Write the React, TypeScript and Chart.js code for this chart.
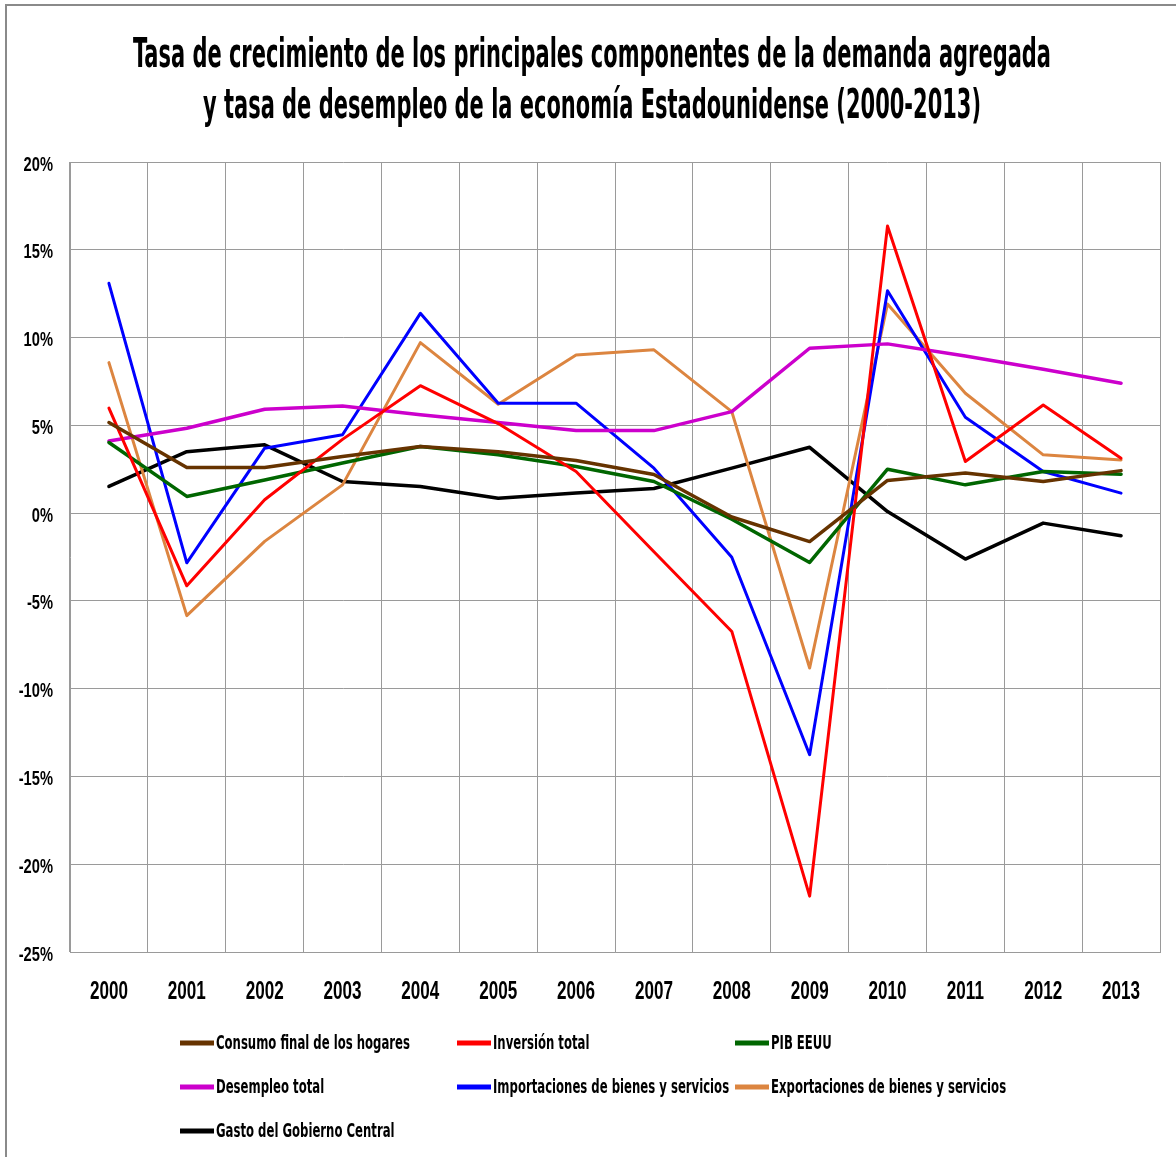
import React, { useEffect, useRef } from 'react';
import { Chart, registerables } from 'chart.js';

Chart.register(...registerables);

const years = ['2000', '2001', '2002', '2003', '2004', '2005', '2006', '2007', '2008', '2009', '2010', '2011', '2012', '2013'];

const consumoHogares = [5.16, 2.6, 2.6, 3.22, 3.8, 3.5, 3.0, 2.2, -0.22, -1.62, 1.86, 2.28, 1.8, 2.42];
const inversionTotal = [5.98, -4.14, 0.76, 4.2, 7.26, 5.1, 2.37, -2.2, -6.74, -21.82, 16.35, 2.94, 6.16, 3.13];
const pibEEUU = [4.02, 0.95, 1.89, 2.85, 3.79, 3.32, 2.65, 1.8, -0.35, -2.81, 2.5, 1.61, 2.37, 2.22];
const desempleoTotal = [4.11, 4.83, 5.92, 6.1, 5.6, 5.16, 4.7, 4.7, 5.78, 9.39, 9.64, 8.95, 8.2, 7.4];
const importaciones = [13.09, -2.83, 3.7, 4.46, 11.38, 6.26, 6.26, 2.56, -2.51, -13.76, 12.67, 5.46, 2.37, 1.14];
const exportaciones = [8.57, -5.84, -1.61, 1.61, 9.71, 6.2, 9.01, 9.3, 5.78, -8.82, 11.91, 6.83, 3.32, 3.03];
const gastoGobierno = [1.52, 3.5, 3.89, 1.8, 1.52, 0.85, 1.14, 1.4, 2.56, 3.75, 0.09, -2.62, -0.57, -1.29];

const seriesLabels = [
  'Consumo final de los hogares',
  'Inversión total',
  'PIB EEUU',
  'Desempleo total',
  'Importaciones de bienes y servicios',
  'Exportaciones de bienes y servicios',
  'Gasto del Gobierno Central',
];
const seriesColors = ['#663300', '#FF0000', '#006600', '#CC00CC', '#0000FF', '#DC8540', '#000000'];
const seriesWidths = [3.5, 3, 3.5, 3.5, 3, 3, 3.5];

const yTicks = { min: -25, max: 20, step: 5 };

const titleLines = [
  'Tasa de crecimiento de los principales componentes de la demanda agregada',
  'y tasa de desempleo de la economía Estadounidense (2000-2013)',
];

const FONT = "'Liberation Sans Narrow', 'DejaVu Sans Condensed', 'Liberation Sans', sans-serif";
const TICKFONT = "'Liberation Sans', 'DejaVu Sans', sans-serif";

function drawScaledText(ctx: any, text: string, x: number, y: number, sx: number, align: string) {
  ctx.save();
  ctx.translate(x, y);
  ctx.scale(sx, 1);
  ctx.textAlign = align;
  ctx.fillText(text, 0, 0);
  ctx.restore();
}

const framePlugin = {
  id: 'frameAndTexts',
  beforeDraw(chart: any) {
    const ctx = chart.ctx;
    ctx.save();
    ctx.fillStyle = '#ffffff';
    ctx.fillRect(0, 0, chart.width, chart.height);
    ctx.restore();
  },
  afterDraw(chart: any) {
    const ctx = chart.ctx;
    ctx.save();
    // outer frame
    ctx.strokeStyle = '#8a8a8a';
    ctx.lineWidth = 2;
    ctx.strokeRect(6, 5, chart.width + 20, chart.height + 20);

    ctx.fillStyle = '#000000';
    ctx.textBaseline = 'alphabetic';

    // title
    ctx.font = `bold 41px ${FONT}`;
    const titleSpecs = [
      { cx: 592, y: 67, w: 918 },
      { cx: 592, y: 118, w: 778 },
    ];
    titleLines.forEach((t, i) => {
      const s = titleSpecs[i];
      const m = ctx.measureText(t).width;
      drawScaledText(ctx, t, s.cx, s.y, s.w / m, 'center');
    });

    // y tick labels
    const ys = chart.scales.y;
    ctx.font = `bold 19.5px ${TICKFONT}`;
    const ySx = 29.4 / ctx.measureText('20%').width;
    ys.ticks.forEach((t: any) => {
      const py = ys.getPixelForValue(t.value);
      drawScaledText(ctx, `${t.value}%`, 53, py + 8.5, ySx, 'right');
    });

    // x tick labels
    const xs = chart.scales.x;
    ctx.font = `bold 25px ${TICKFONT}`;
    const xSx = 38 / ctx.measureText('2000').width;
    chart.data.labels.forEach((lab: string, i: number) => {
      const px = xs.getPixelForTick(i);
      drawScaledText(ctx, lab, px, 999, xSx, 'center');
    });

    // legend
    ctx.font = `bold 19px ${FONT}`;
    const refW = ctx.measureText(seriesLabels[0]).width;
    const sx = 194 / refW;
    const colX = [180, 457, 735];
    const rowY = [1043, 1087, 1131];
    chart.data.datasets.forEach((ds: any, i: number) => {
      const col = i % 3;
      const row = Math.floor(i / 3);
      const x = colX[col];
      const y = rowY[row];
      ctx.strokeStyle = ds.borderColor;
      ctx.lineWidth = 5;
      ctx.lineCap = 'butt';
      ctx.beginPath();
      ctx.moveTo(x, y);
      ctx.lineTo(x + 34, y);
      ctx.stroke();
      ctx.save();
      ctx.translate(x + 36, y);
      ctx.scale(sx, 1);
      ctx.textAlign = 'left';
      ctx.textBaseline = 'middle';
      ctx.fillStyle = '#000000';
      ctx.fillText(ds.label, 0, 1);
      ctx.restore();
    });
    ctx.restore();
  },
};

export default function App() {
  const ref = useRef<HTMLCanvasElement>(null);
  useEffect(() => {
    const canvas = ref.current;
    if (!canvas) return;
    const allSeries = [consumoHogares, inversionTotal, pibEEUU, desempleoTotal, importaciones, exportaciones, gastoGobierno];
    const chart = new Chart(canvas, {
      type: 'line',
      data: {
        labels: years,
        datasets: allSeries.map((d, i) => ({
          label: seriesLabels[i],
          data: d,
          borderColor: seriesColors[i],
          backgroundColor: seriesColors[i],
          borderWidth: seriesWidths[i],
          pointRadius: 0,
          pointHoverRadius: 0,
          tension: 0,
          fill: false,
          borderJoinStyle: 'round',
          borderCapStyle: 'round',
        })),
      },
      options: {
        responsive: false,
        animation: false,
        events: [],
        layout: { padding: { top: 162, left: 0, right: 16, bottom: 145 } },
        plugins: {
          legend: { display: false },
          title: { display: false },
          tooltip: { enabled: false },
        },
        scales: {
          x: {
            offset: true,
            grid: { offset: true, color: '#9a9a9a', lineWidth: 1, drawTicks: false },
            border: { display: true, color: '#9a9a9a', width: 1 },
            ticks: { display: false, autoSkip: false, maxRotation: 0 },
            afterFit(scale: any) {
              scale.height = 60;
            },
          },
          y: {
            min: yTicks.min,
            max: yTicks.max,
            grid: { color: '#9a9a9a', lineWidth: 1, drawTicks: false },
            border: { display: true, color: '#9a9a9a', width: 1 },
            ticks: { display: false, stepSize: yTicks.step },
            afterFit(scale: any) {
              scale.width = 70;
            },
          },
        },
      },
      plugins: [framePlugin],
    } as any);
    return () => chart.destroy();
  }, []);
  return (
    <div style={{ position: 'absolute', left: 0, top: 0, width: 1176, height: 1157, background: '#ffffff' }}>
      <canvas ref={ref} width={1176} height={1157} style={{ display: 'block' }} />
    </div>
  );
}
